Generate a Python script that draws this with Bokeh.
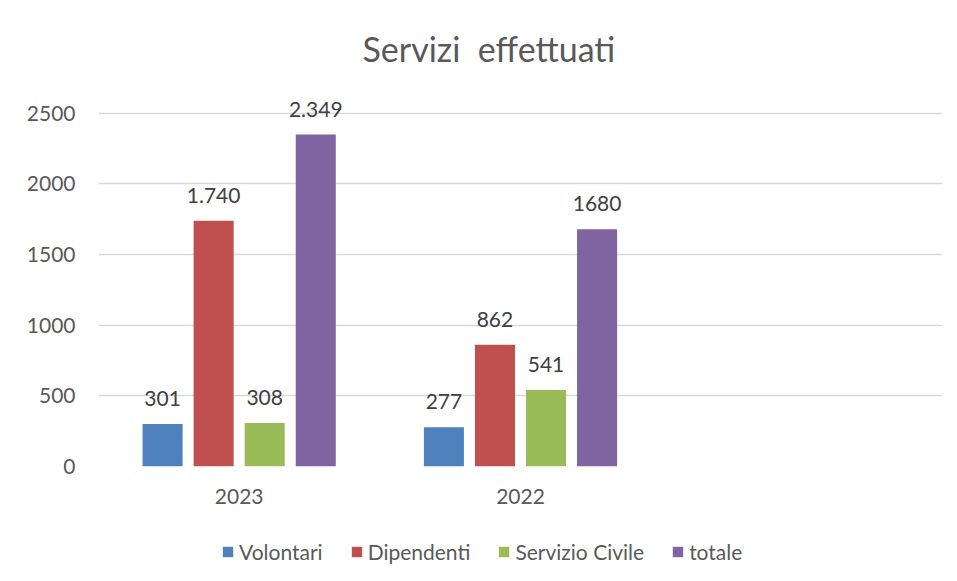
from bokeh.plotting import figure
from bokeh.layouts import column
from bokeh.models import (ColumnDataSource, LabelSet, Legend, LegendItem,
                          FixedTicker, Range1d)
from bokeh.core.properties import value
from bokeh.embed import file_html
from bokeh.resources import INLINE

# ---- data ----
categories = ["2023", "2022", ""]
series = ["Volontari", "Dipendenti", "Servizio Civile", "totale"]
volontari = [301, 277]
dipendenti = [1740, 862]
servizio_civile = [308, 541]
totale = [2349, 1680]
labels_volontari = ["301", "277"]
labels_dipendenti = ["1.740", "862"]
labels_servizio_civile = ["308", "541"]
labels_totale = ["2.349", "1680"]
y_ticks = [0, 500, 1000, 1500, 2000, 2500]
title = "Servizi \u00a0effettuati"

colors = ["#4F81BD", "#C0504D", "#9BBB59", "#8064A2"]
FONT = "Lato"
TEXT = "#595959"

# headroom above 2500 so the top data label is not clipped
p = figure(width=957, height=521, output_backend="svg", toolbar_location=None,
           x_range=Range1d(0, len(categories)), y_range=Range1d(0, 2640),
           min_border_left=98, min_border_right=15, min_border_top=92,
           min_border_bottom=55)
p.outline_line_color = None
p.background_fill_color = "white"
p.border_fill_color = "white"

p.title.text = title
p.title.align = "left"
p.title.offset = 264
p.title.text_font = FONT
p.title.text_font_size = "34px"
p.title.text_font_style = "normal"
p.title.text_color = TEXT
p.title.standoff = 50

# legend strip below the chart (its bars fall far outside its range)
pl = figure(width=957, height=60, output_backend="svg", toolbar_location=None,
            x_range=Range1d(0, len(categories)), y_range=Range1d(5000, 6000),
            min_border=0, min_border_left=0, min_border_right=0,
            min_border_top=0, min_border_bottom=0)
pl.axis.visible = False
pl.grid.visible = False
pl.outline_line_color = None
pl.border_fill_color = "white"
pl.background_fill_color = "white"

bar_w = 40 / 281
step = 51 / 281
values = [volontari, dipendenti, servizio_civile, totale]
labels = [labels_volontari, labels_dipendenti, labels_servizio_civile, labels_totale]
items = []
for i, (name, vals, labs, col) in enumerate(zip(series, values, labels, colors)):
    xs = [k + 0.5 + (i - 1.5) * step for k in range(len(vals))]
    src = ColumnDataSource(dict(x=xs, top=vals, lab=labs))
    p.vbar(x="x", top="top", width=bar_w, source=src, fill_color=col, line_color=None)
    p.add_layout(LabelSet(x="x", y="top", text="lab", source=src, y_offset=18,
                          text_align="center", text_baseline="bottom",
                          text_font=value(FONT), text_font_size=value("21px"),
                          text_color="#404040"))
    r = pl.vbar(x="x", top="top", width=bar_w, source=src, fill_color=col, line_color=None)
    items.append(LegendItem(label=name, renderers=[r]))

# axes
p.yaxis.ticker = FixedTicker(ticks=y_ticks)
p.yaxis.axis_line_color = None
p.yaxis.major_tick_line_color = None
p.yaxis.minor_tick_line_color = None
p.yaxis.major_label_text_font = FONT
p.yaxis.major_label_text_font_size = "21px"
p.yaxis.major_label_text_color = TEXT
p.yaxis.major_label_standoff = 17

p.xaxis.ticker = FixedTicker(ticks=[k + 0.5 for k in range(len(categories))])
p.xaxis.major_label_overrides = {k + 0.5: c for k, c in enumerate(categories)}
p.xaxis.axis_line_color = None
p.xaxis.major_tick_line_color = None
p.xaxis.minor_tick_line_color = None
p.xaxis.major_label_text_font = FONT
p.xaxis.major_label_text_font_size = "21px"
p.xaxis.major_label_text_color = TEXT
p.xaxis.major_label_standoff = 16

p.xgrid.grid_line_color = None
p.ygrid.ticker = FixedTicker(ticks=y_ticks)
p.ygrid.grid_line_color = "#D9D9D9"
p.ygrid.grid_line_width = 1.5

legend = Legend(items=items, orientation="horizontal", location=(123, 17),
                label_text_font=FONT, label_text_font_size="21px",
                label_text_color=TEXT, glyph_width=13, glyph_height=13,
                spacing=27, label_standoff=5, border_line_color=None,
                background_fill_alpha=0, margin=0, padding=0)
pl.add_layout(legend)

open("out.html", "w").write(file_html(column(p, pl, spacing=0), INLINE))
